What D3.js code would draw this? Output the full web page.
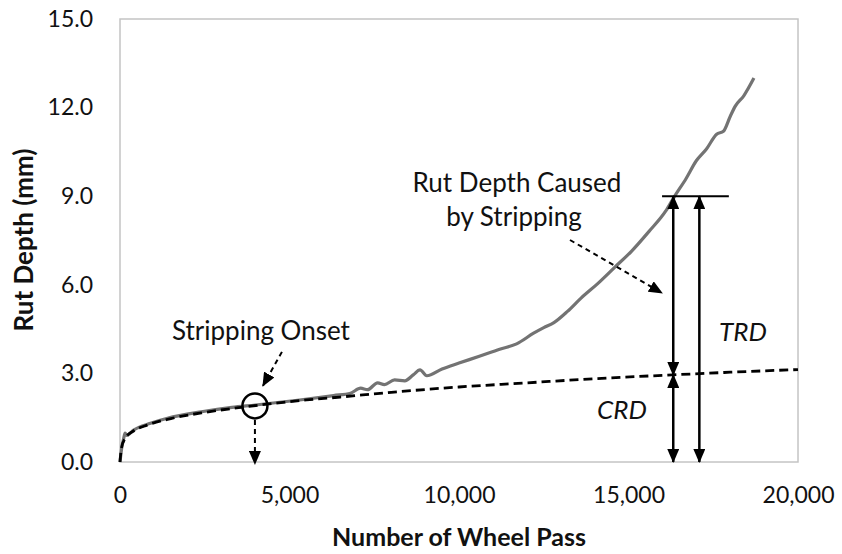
<!DOCTYPE html>
<meta charset="utf-8">
<style>
    body { margin: 0; background: #fff; }
    text { font-family: Lato, "Open Sans", sans-serif; fill: #111; }
</style>
<body>
<script src="https://cdn.jsdelivr.net/npm/d3@7"></script>
<script>
    var width = 842
    var height = 554
    var margin = { top: 19, right: 44, bottom: 92, left: 120 }

    // measured rut depth curve (wheel pass, mm)
    var measuredPass = [0, 60, 100, 150, 200, 400, 900, 1400, 2400, 3300, 4000, 5300, 6300, 6800, 7100, 7300, 7600, 7800, 8100, 8400, 8650, 8850, 9050, 9500, 10000, 10600, 11200, 11700, 12200, 12500, 12800, 13200, 13600, 14100, 14600, 15100, 15600, 16100, 16350, 16700, 17000, 17300, 17600, 17800, 18000, 18150, 18400, 18700]
    var measuredDepth = [0, 0.55, 0.75, 0.98, 0.9, 1.08, 1.31, 1.48, 1.7, 1.85, 1.93, 2.1, 2.25, 2.33, 2.5, 2.45, 2.68, 2.62, 2.78, 2.75, 2.95, 3.12, 2.92, 3.15, 3.35, 3.58, 3.82, 4.0, 4.36, 4.55, 4.72, 5.1, 5.55, 6.05, 6.6, 7.15, 7.8, 8.5, 8.98, 9.6, 10.2, 10.6, 11.1, 11.2, 11.7, 12.05, 12.4, 13.0]

    // creep (fitted) trend line
    var creepPass = [0, 40, 150, 400, 800, 1500, 2500, 3500, 4500, 5500, 6500, 8000, 10000, 12000, 14000, 16300, 18000, 20000]
    var creepDepth = [0, 0.45, 0.8, 1.05, 1.25, 1.47, 1.68, 1.84, 1.98, 2.1, 2.2, 2.36, 2.54, 2.68, 2.82, 2.95, 3.04, 3.13]

    var xTicks = [0, 5000, 10000, 15000, 20000]
    var yTicks = [0, 3, 6, 9, 12, 15]

    // annotation anchors in data units
    var onset = [3980, 1.9]
    var crdPass = 16320
    var trdPass = 17090
    var trdDepth = 9.0
    var crdDepth = 2.95
    var capPass = [15990, 17960]

    var svg = d3.select('body').append('svg')
        .attr('width', width)
        .attr('height', height)

    var x = d3.scaleLinear().domain([0, 20000]).range([margin.left, width - margin.right])
    var y = d3.scaleLinear().domain([0, 15]).range([height - margin.bottom, margin.top])

    var defs = svg.append('defs')
    defs.append('marker')
        .attr('id', 'head')
        .attr('markerUnits', 'userSpaceOnUse')
        .attr('viewBox', '0 0 14 12')
        .attr('markerWidth', 14)
        .attr('markerHeight', 12)
        .attr('refX', 13)
        .attr('refY', 6)
        .attr('orient', 'auto-start-reverse')
        .append('path')
        .attr('d', 'M0,0 L14,6 L0,12 Z')
        .attr('fill', '#000')

    // plot frame
    svg.append('rect')
        .attr('x', x(0)).attr('y', y(15))
        .attr('width', x(20000) - x(0)).attr('height', y(0) - y(15))
        .attr('fill', 'none').attr('stroke', '#c4c4c4').attr('stroke-width', 1.5)

    svg.append('g')
        .attr('transform', 'translate(0,' + y(0) + ')')
        .call(d3.axisBottom(x).tickValues(xTicks).tickSize(0).tickPadding(25).tickFormat(d3.format(',')))
    svg.append('g')
        .attr('transform', 'translate(' + x(0) + ',0)')
        .call(d3.axisLeft(y).tickValues(yTicks).tickSize(0).tickPadding(27).tickFormat(d3.format('.1f')))
    svg.selectAll('.domain').remove()
    svg.selectAll('.tick text').style('font-size', '23px').attr('fill', '#111')

    svg.append('text')
        .attr('x', (x(0) + x(20000)) / 2).attr('y', 546)
        .attr('text-anchor', 'middle')
        .style('font-size', '25px').style('font-weight', 'bold')
        .text('Number of Wheel Pass')
    svg.append('text')
        .attr('transform', 'translate(33,240) rotate(-90)')
        .attr('text-anchor', 'middle')
        .style('font-size', '26px').style('font-weight', 'bold')
        .text('Rut Depth (mm)')

    var line = d3.line().curve(d3.curveMonotoneX)

    svg.append('path')
        .datum(measuredPass.map(function (d, i) { return [x(d), y(measuredDepth[i])] }))
        .attr('d', line)
        .attr('fill', 'none').attr('stroke', '#737373').attr('stroke-width', 3.2)

    svg.append('path')
        .datum(creepPass.map(function (d, i) { return [x(d), y(creepDepth[i])] }))
        .attr('d', line)
        .attr('fill', 'none').attr('stroke', '#000').attr('stroke-width', 2.8)
        .attr('stroke-dasharray', '9,5')

    // stripping onset
    var cx = x(onset[0]), cy = y(onset[1])
    svg.append('circle')
        .attr('cx', cx).attr('cy', cy).attr('r', 12.5)
        .attr('fill', 'none').attr('stroke', '#000').attr('stroke-width', 2.5)
    svg.append('line')
        .attr('x1', cx).attr('y1', cy + 14).attr('x2', cx).attr('y2', y(0) + 2)
        .attr('stroke', '#000').attr('stroke-width', 2).attr('stroke-dasharray', '5,4')
        .attr('marker-end', 'url(#head)')
    svg.append('line')
        .attr('x1', cx + 27).attr('y1', cy - 54).attr('x2', cx + 8).attr('y2', cy - 20)
        .attr('stroke', '#000').attr('stroke-width', 2).attr('stroke-dasharray', '5,4')
        .attr('marker-end', 'url(#head)')
    svg.append('text')
        .attr('x', cx + 6).attr('y', cy - 66)
        .attr('text-anchor', 'middle')
        .style('font-size', '26px')
        .text('Stripping Onset')

    // rut depth caused by stripping
    svg.append('text')
        .attr('x', 517).attr('y', 192)
        .attr('text-anchor', 'middle')
        .style('font-size', '26px')
        .text('Rut Depth Caused')
    svg.append('text')
        .attr('x', 514).attr('y', 226)
        .attr('text-anchor', 'middle')
        .style('font-size', '26px')
        .text('by Stripping')
    svg.append('line')
        .attr('x1', 570).attr('y1', 240).attr('x2', 662).attr('y2', 293)
        .attr('stroke', '#000').attr('stroke-width', 2).attr('stroke-dasharray', '5,4')
        .attr('marker-end', 'url(#head)')

    svg.append('line')
        .attr('x1', x(capPass[0])).attr('x2', x(capPass[1]))
        .attr('y1', y(trdDepth)).attr('y2', y(trdDepth))
        .attr('stroke', '#000').attr('stroke-width', 2)

    var arrows = [
        [crdPass, trdDepth, crdDepth],
        [crdPass, crdDepth, 0],
        [trdPass, trdDepth, 0]
    ]
    svg.selectAll('.dim')
        .data(arrows)
        .enter().append('line')
        .attr('class', 'dim')
        .attr('x1', function (d) { return x(d[0]) })
        .attr('x2', function (d) { return x(d[0]) })
        .attr('y1', function (d) { return y(d[1]) })
        .attr('y2', function (d) { return y(d[2]) })
        .attr('stroke', '#000').attr('stroke-width', 2.5)
        .attr('marker-start', 'url(#head)')
        .attr('marker-end', 'url(#head)')

    svg.append('text')
        .attr('x', 622).attr('y', 419)
        .attr('text-anchor', 'middle')
        .style('font-size', '26px').style('font-style', 'italic')
        .text('CRD')
    svg.append('text')
        .attr('x', 743).attr('y', 341)
        .attr('text-anchor', 'middle')
        .style('font-size', '26px').style('font-style', 'italic')
        .text('TRD')
</script>
</body>
